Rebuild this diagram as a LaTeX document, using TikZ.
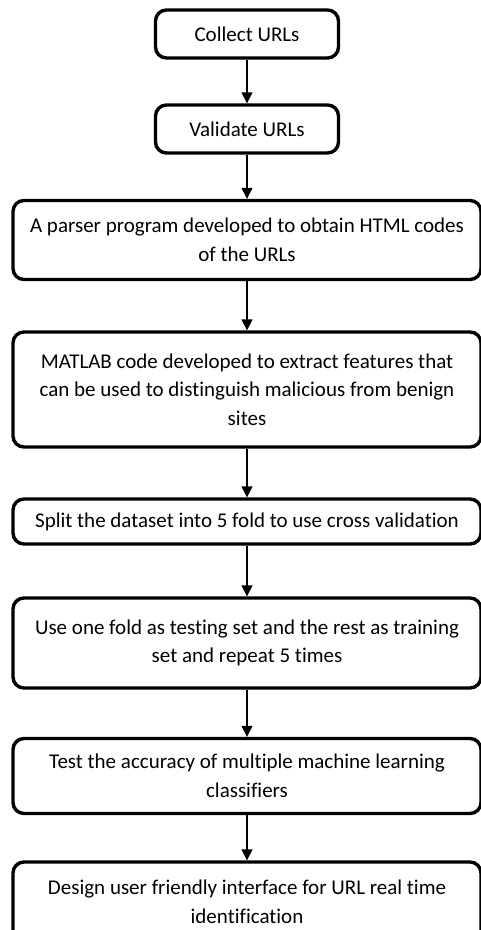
\documentclass[tikz,border=0pt]{standalone}
\usepackage{fontspec}
\setmainfont{Carlito}[Ligatures=NoCommon]
\usetikzlibrary{arrows.meta}
\begin{document}
\begin{tikzpicture}[x=1pt,y=-1pt,
    stepbox/.style={draw, line width=3.4pt, rounded corners=11pt, align=center,
      inner sep=0pt, font=\fontsize{21}{28.5}\selectfont},
    smallbox/.style={stepbox, minimum width=183pt, minimum height=48pt},
    widebox/.style={stepbox, minimum width=468pt},
    flow/.style={-{Triangle[length=11pt,width=11pt]}, line width=1.4pt}]
        \useasboundingbox (0,0) rectangle (481,930);
        \def\midX{247}
        \node[smallbox] (Collect) at (\midX,34) {Collect URLs};
        \node[smallbox] (Validate) at (\midX,129) {Validate URLs};
        \node[widebox, minimum height=79pt] (Parser) at (\midX,240)
            {A parser program developed to obtain HTML codes\\of the URLs};
        \node[widebox, minimum height=115pt] (Matlab) at (\midX,389.5)
            {MATLAB code developed to extract features that\\can be used to distinguish malicious from benign\\sites};
        \node[widebox, minimum height=45pt] (Split) at (\midX,521.5)
            {Split the dataset into 5 fold to use cross validation};
        \node[widebox, minimum height=90pt] (Folds) at (\midX,643)
            {Use one fold as testing set and the rest as training\\set and repeat 5 times};
        \node[widebox, minimum height=75pt] (Test) at (\midX,776)
            {Test the accuracy of multiple machine learning\\classifiers};
        \node[widebox, minimum height=80pt] (Design) at (\midX,902)
            {Design user friendly interface for URL real time\\identification};
        \draw[flow] (Collect) -- (Validate);
        \draw[flow] (Validate) -- (Parser);
        \draw[flow] (Parser) -- (Matlab);
        \draw[flow] (Matlab) -- (Split);
        \draw[flow] (Split) -- (Folds);
        \draw[flow] (Folds) -- (Test);
        \draw[flow] (Test) -- (Design);
    \end{tikzpicture}
\end{document}
